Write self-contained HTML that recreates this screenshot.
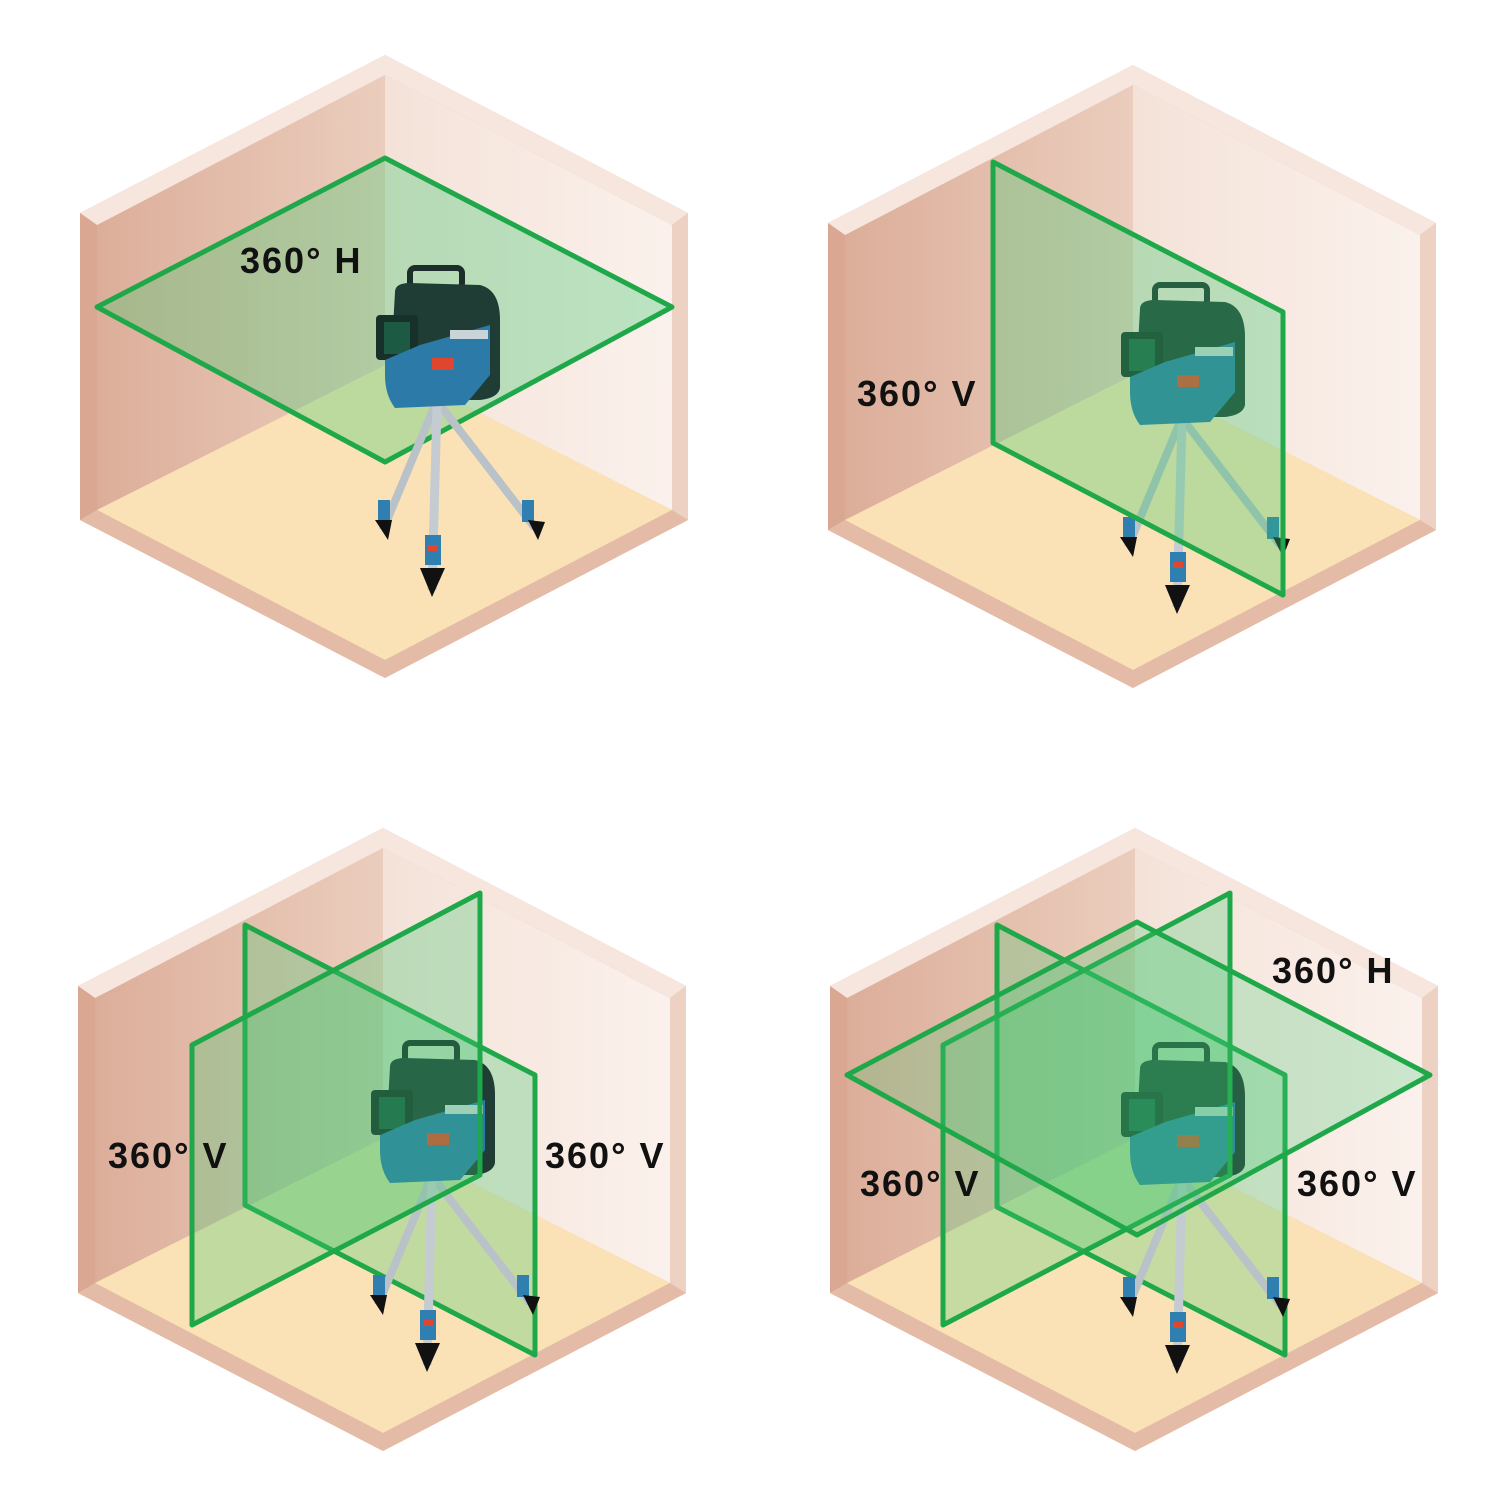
<!DOCTYPE html>
<html><head><meta charset="utf-8"><style>
html,body{margin:0;padding:0;background:#fff}
svg{display:block}
text{font-family:"Liberation Sans",sans-serif;font-weight:bold;font-size:36px;letter-spacing:2px;fill:#111}
</style></head><body>
<svg width="1500" height="1500" viewBox="0 0 1500 1500" xmlns="http://www.w3.org/2000/svg">
<defs>
<linearGradient id="lw" x1="0" y1="0" x2="1" y2="0"><stop offset="0" stop-color="#dcae9a"/><stop offset="1" stop-color="#ebcdbd"/></linearGradient>
<linearGradient id="rw" x1="0" y1="0" x2="1" y2="0"><stop offset="0" stop-color="#f4e2d8"/><stop offset="1" stop-color="#fbf1ec"/></linearGradient>
<g id="room">
<polygon points="385,55 688,213 688,520 385,678 80,520 80,213" fill="#e3b9a4"/>
<polygon points="97,225 385,75 385,365 97,510" fill="url(#lw)"/>
<polygon points="385,75 672,225 672,510 385,365" fill="url(#rw)"/>
<polygon points="385,365 672,510 385,660 97,510" fill="#fbe2b6"/>
<polygon points="80,213 385,55 688,213 672,225 385,75 97,225" fill="#f6e6de"/>
<polygon points="80,213 97,225 97,510 80,520" fill="#d9a792"/>
<polygon points="97,510 385,660 672,510 688,520 385,678 80,520" fill="#e4bba6"/>
<polygon points="672,225 688,213 688,520 672,510" fill="#edd2c4"/>
</g>
<g id="dev">
<line x1="435" y1="405" x2="383" y2="530" stroke="#b9c2c8" stroke-width="8"/>
<line x1="440" y1="405" x2="535" y2="528" stroke="#b9c2c8" stroke-width="8"/>
<line x1="437" y1="405" x2="432" y2="590" stroke="#c4ccd2" stroke-width="9"/>
<rect x="378" y="500" width="12" height="22" fill="#2f7fb0"/>
<rect x="522" y="500" width="12" height="22" fill="#2f7fb0"/>
<rect x="425" y="535" width="16" height="30" fill="#2f7fb0"/>
<rect x="428" y="545" width="10" height="6" fill="#e0452f"/>
<path d="M375,520 L392,520 L388,540 Z" fill="#111"/>
<path d="M528,520 L545,522 L538,540 Z" fill="#111"/>
<path d="M420,568 L445,568 L432,597 Z" fill="#111"/>
<rect x="410" y="268" width="52" height="20" rx="5" fill="none" stroke="#1b2e2a" stroke-width="6"/>
<path d="M395,292 Q395,283 410,283 L480,285 Q500,290 500,320 L500,388 Q498,398 480,400 L400,400 Q390,395 390,380 Z" fill="#1f3d35"/>
<rect x="376" y="315" width="42" height="45" rx="4" fill="#173029"/>
<rect x="384" y="322" width="26" height="32" fill="#1c5a44"/>
<path d="M385,360 L420,345 L490,325 L490,375 L465,405 L395,408 Q385,395 385,375 Z" fill="#2c7aa8"/>
<rect x="432" y="358" width="22" height="12" fill="#e0452f"/>
<rect x="450" y="330" width="38" height="9" fill="#c9d4d8"/>
</g>
</defs>
<rect width="1500" height="1500" fill="#fff"/>

<!-- TL -->
<use href="#room"/>
<polygon points="97,307 385,158 672,307 385,462" fill="rgba(60,200,110,0.33)" stroke="#1fa84a" stroke-width="5" stroke-linejoin="round"/>
<use href="#dev"/>
<text x="240" y="273">360° H</text>

<!-- TR -->
<g transform="translate(748,10)"><use href="#room"/></g>
<g transform="translate(745,17)"><use href="#dev"/></g>
<polygon points="993,162 1283,312 1283,595 993,443" fill="rgba(60,200,110,0.33)" stroke="#1fa84a" stroke-width="5" stroke-linejoin="round"/>
<text x="857" y="406">360° V</text>

<!-- BL -->
<g transform="translate(-2,773)"><use href="#room"/></g>
<polygon points="245,925 535,1075 535,1355 245,1205" fill="rgba(60,200,110,0.3)" stroke="#1fa84a" stroke-width="5" stroke-linejoin="round"/>
<g transform="translate(-5,775)"><use href="#dev"/></g>
<polygon points="192,1045 480,893 480,1175 192,1325" fill="rgba(60,200,110,0.3)" stroke="#1fa84a" stroke-width="5" stroke-linejoin="round"/>
<text x="108" y="1168">360° V</text>
<text x="545" y="1168">360° V</text>

<!-- BR -->
<g transform="translate(750,773)"><use href="#room"/></g>
<polygon points="997,925 1285,1075 1285,1355 997,1207" fill="rgba(60,200,110,0.28)" stroke="#1fa84a" stroke-width="5" stroke-linejoin="round"/>
<g transform="translate(745,777)"><use href="#dev"/></g>
<polygon points="943,1045 1230,893 1230,1175 943,1325" fill="rgba(60,200,110,0.28)" stroke="#1fa84a" stroke-width="5" stroke-linejoin="round"/>
<polygon points="847,1075 1137,922 1430,1075 1137,1235" fill="rgba(60,200,110,0.25)" stroke="#1fa84a" stroke-width="5" stroke-linejoin="round"/>
<text x="1272" y="983">360° H</text>
<text x="860" y="1196">360° V</text>
<text x="1297" y="1196">360° V</text>
</svg>
</body></html>
